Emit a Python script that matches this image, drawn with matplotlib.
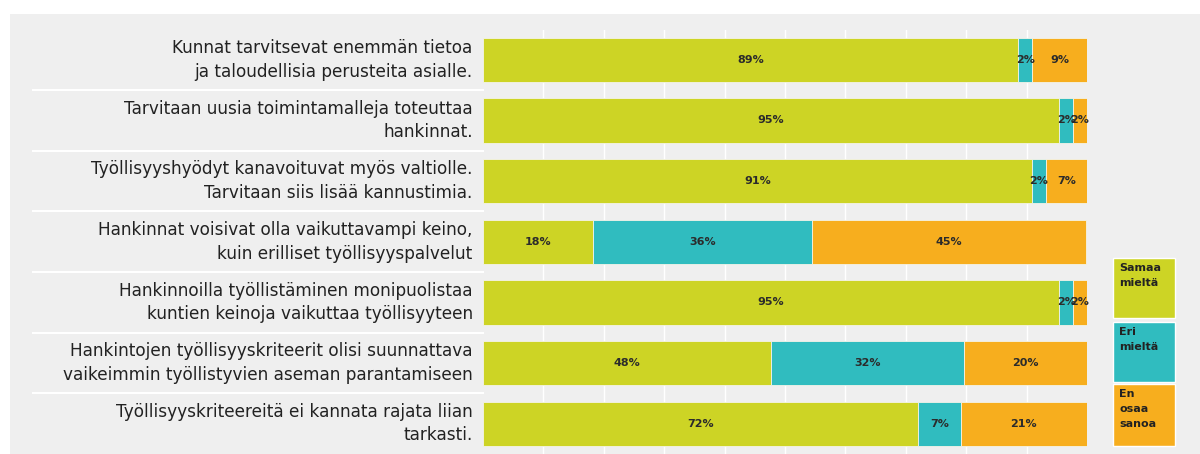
import matplotlib.pyplot as plt
from matplotlib.patches import Rectangle
import numpy as np

# survey statements and answer shares (%)
statements = [
    "Kunnat tarvitsevat enemmän tietoa\nja taloudellisia perusteita asialle.",
    "Tarvitaan uusia toimintamalleja toteuttaa\nhankinnat.",
    "Työllisyyshyödyt kanavoituvat myös valtiolle.\nTarvitaan siis lisää kannustimia.",
    "Hankinnat voisivat olla vaikuttavampi keino,\nkuin erilliset työllisyyspalvelut",
    "Hankinnoilla työllistäminen monipuolistaa\nkuntien keinoja vaikuttaa työllisyyteen",
    "Hankintojen työllisyyskriteerit olisi suunnattava\nvaikeimmin työllistyvien aseman parantamiseen",
    "Työllisyyskriteereitä ei kannata rajata liian\ntarkasti.",
]
samaa = [88.6, 95.4, 90.9, 18.2, 95.4, 47.6, 72.0]
eri = [2.3, 2.3, 2.3, 36.3, 2.3, 32.0, 7.1]
en_osaa = [9.1, 2.3, 6.8, 45.4, 2.3, 20.4, 20.9]

series = ["Samaa\nmieltä", "Eri\nmieltä", "En\nosaa\nsanoa"]
colors = ["#cdd425", "#30bcbf", "#f7ae1e"]
bg = "#efefef"

plt.rcParams['font.family'] = ['DejaVu Sans']

fig = plt.figure(figsize=(12, 4.54), dpi=100)
fig.patch.set_facecolor("white")
fig.add_artist(Rectangle((10 / 1200, 0), 1, 1 - 14 / 454,
                         transform=fig.transFigure, facecolor=bg,
                         edgecolor="none", zorder=0))

ax = fig.add_axes([483 / 1200, 0, 604 / 1200, 1 - 29.5 / 454])
ax.patch.set_alpha(0)

y = np.arange(len(statements))
left = np.zeros(len(statements))
for vals, col in zip([samaa, eri, en_osaa], colors):
    vals = np.array(vals)
    ax.barh(y, vals, left=left, height=0.73, color=col,
            edgecolor="#f4f4e8", linewidth=0.6, zorder=2)
    for yi, l, v in zip(y, left, vals):
        ax.text(l + v / 2, yi, "%.0f%%" % v, ha="center", va="center",
                fontsize=8, fontweight="bold", color="#2b2b2b", zorder=3)
    left += vals

ax.set_xlim(0, 100)
ax.set_ylim(6.5, -0.5)
ax.set_xticks(np.arange(10, 100, 10))
ax.grid(axis="x", color="white", linewidth=1.0, zorder=1)
ax.tick_params(length=0, labelbottom=False, labelleft=False)
for s in ax.spines.values():
    s.set_visible(False)

# statement labels and white separators
for yi, txt in zip(y, statements):
    ax.text(-0.017, yi, txt, transform=ax.get_yaxis_transform(),
            ha="right", va="center", fontsize=12.2, color="#222222",
            linespacing=1.4)
for yi in y[:-1] + 0.5:
    ax.plot([-0.745, 0], [yi, yi], transform=ax.get_yaxis_transform(),
            color="white", linewidth=1.5, clip_on=False, zorder=1)

# legend boxes
boxes = [(258, 318), (322, 382), (384, 446)]
for (top, bot), lab, col in zip(boxes, series, colors):
    fig.add_artist(Rectangle((1113 / 1200, 1 - bot / 454), 62 / 1200,
                             (bot - top) / 454, transform=fig.transFigure,
                             facecolor=col, edgecolor="white", linewidth=1))
    fig.text(1119 / 1200, 1 - (top + 5) / 454, lab, ha="left", va="top",
             fontsize=8, fontweight="bold", color="#222222", linespacing=1.6)

fig.savefig("out.png", dpi=100, facecolor=fig.get_facecolor())
